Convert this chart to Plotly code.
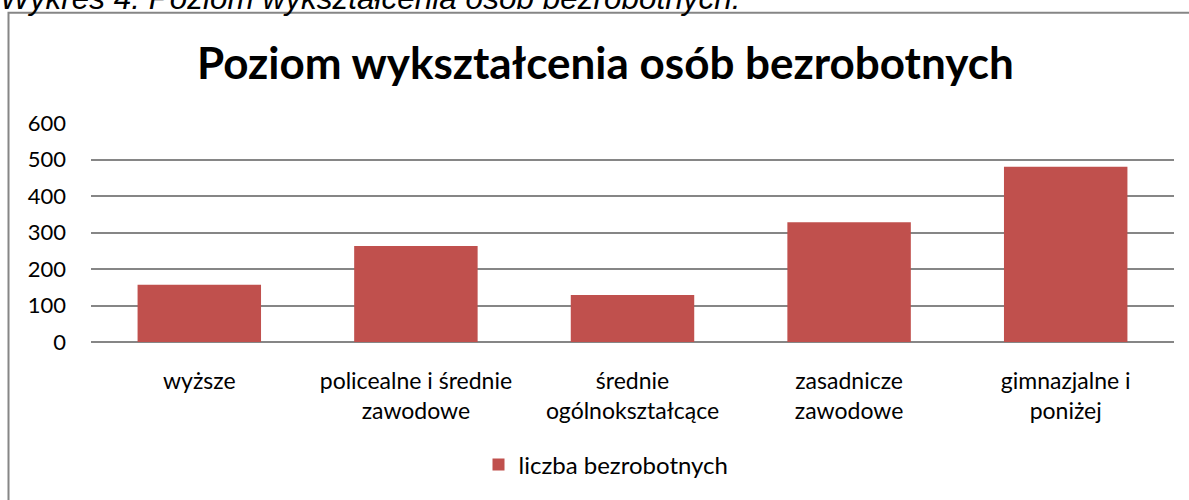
import plotly.graph_objects as go

categories = ["wyższe", "policealne i średnie<br>zawodowe", "średnie<br>ogólnokształcące",
              "zasadnicze<br>zawodowe", "gimnazjalne i<br>poniżej"]
values = [157, 263, 129, 328, 480]
series_name = "liczba bezrobotnych"
title_text = "Poziom wykształcenia osób bezrobotnych"
caption_text = "Wykres 4. Poziom wykształcenia osób bezrobotnych."
y_ticks = [0, 100, 200, 300, 400, 500, 600]

W, H = 1189, 500
L, R, T, B = 91, 15, 123, 156
pw, ph = W - L - R, H - T - B

def px_x(x):
    return (x - L) / pw

def px_y(y):
    return (H - B - y) / ph

fig = go.Figure()
fig.add_trace(go.Bar(x=categories, y=values, name=series_name,
                     marker=dict(color="#C0504D", line=dict(width=0))))

fig.update_layout(
    width=W, height=H,
    margin=dict(l=L, r=R, t=T, b=B),
    paper_bgcolor="white", plot_bgcolor="white",
    bargap=0.43,
    showlegend=True,
    legend=dict(orientation="h", x=px_x(606), xanchor="center", y=px_y(468), yanchor="middle",
                font=dict(family="Lato", size=24, color="#000")),
    font=dict(family="Lato", color="#000"),
    xaxis=dict(showgrid=False, showline=False, zeroline=False,
               tickfont=dict(family="Lato", size=23, color="#000"),
               ticks="", ticklabelstandoff=23),
    yaxis=dict(range=[0, 600], tickvals=y_ticks, showgrid=True, gridcolor="#868686", gridwidth=1.5,
               zeroline=True, zerolinecolor="#868686", zerolinewidth=1.5,
               showline=False, ticks="", ticklabelstandoff=24,
               tickfont=dict(family="Lato", size=22, color="#000")),
)

fig.add_annotation(text="<b>" + title_text + "</b>", xref="paper", yref="paper",
                   x=px_x(605), y=px_y(61), xanchor="center", yanchor="middle", showarrow=False,
                   font=dict(family="Lato", size=44, color="#000"))
fig.add_annotation(text=caption_text, xref="paper", yref="paper",
                   x=px_x(-2), y=px_y(17), xanchor="left", yanchor="bottom", showarrow=False,
                   font=dict(family="Liberation Sans", size=31.5, color="#000", style="italic"))

fig.add_shape(type="rect", xref="paper", yref="paper",
              x0=px_x(8.5), x1=px_x(1205), y0=px_y(515), y1=px_y(11.7),
              line=dict(color="#868686", width=2), fillcolor="rgba(0,0,0,0)", layer="below")

fig.write_html("out.html", config={"displayModeBar": False},
               post_script="document.body.style.margin='0';")
